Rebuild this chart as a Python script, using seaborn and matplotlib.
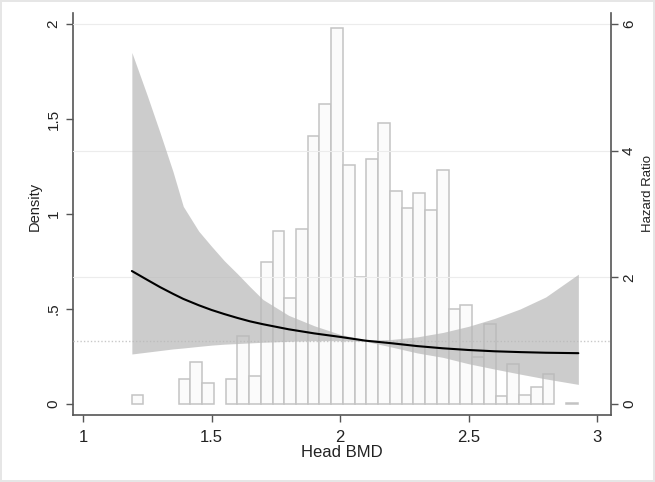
import numpy as np
import pandas as pd
import matplotlib
matplotlib.use('Agg')
import matplotlib.pyplot as plt
import seaborn as sns

# histogram of head BMD (density per bin), 38 bins from 1.189 to 2.925
bin_lo = 1.189
bin_hi = 2.925
n_bins = 38
density = [0.05, 0, 0, 0, 0.13, 0.22, 0.11, 0, 0.13, 0.36,
           0.15, 0.75, 0.91, 0.56, 0.92, 1.41, 1.58, 1.98, 1.26, 0.67,
           1.29, 1.48, 1.12, 1.03, 1.11, 1.02, 1.23, 0.50, 0.52, 0.25,
           0.42, 0.04, 0.21, 0.05, 0.09, 0.16, 0, 0.006]

# hazard ratio curve and 95% CI
bmd = [1.19, 1.25, 1.30, 1.35, 1.39, 1.45, 1.50, 1.55, 1.60, 1.65, 1.70,
       1.80, 1.90, 2.00, 2.10, 2.20, 2.30, 2.40, 2.50, 2.60, 2.70, 2.80, 2.927]
hr = [2.10, 1.96, 1.845, 1.74, 1.66, 1.56, 1.485, 1.42, 1.36, 1.305, 1.26,
      1.18, 1.115, 1.06, 1.00, 0.96, 0.915, 0.88, 0.853, 0.833, 0.82, 0.81, 0.803]
hr_up = [5.55, 4.87, 4.28, 3.67, 3.12, 2.73, 2.49, 2.26, 2.06, 1.85, 1.65,
         1.40, 1.235, 1.10, 1.01, 1.02, 1.06, 1.13, 1.227, 1.35, 1.50, 1.69, 2.05]
hr_lo = [0.79, 0.82, 0.845, 0.87, 0.885, 0.91, 0.93, 0.945, 0.955, 0.965, 0.975,
         0.99, 1.0, 1.0, 0.99, 0.90, 0.807, 0.737, 0.636, 0.553, 0.473, 0.397, 0.31]

edges = np.linspace(bin_lo, bin_hi, n_bins + 1)
hist_df = pd.DataFrame({'mid': (edges[:-1] + edges[1:]) / 2, 'density': density})
curve = pd.DataFrame({'bmd': bmd, 'hr': hr, 'up': hr_up, 'lo': hr_lo})

sns.set_style('white')
plt.rcParams['font.family'] = ['Liberation Sans', 'DejaVu Sans']

fig = plt.figure(figsize=(6.55, 4.82), dpi=100)
fig.patch.set_edgecolor('#e6e6e6')
fig.patch.set_linewidth(1.5)
ax = fig.add_axes([73 / 655, 1 - 415 / 482, 538 / 655, 402 / 482])
ax2 = ax.twinx()

sns.histplot(data=hist_df, x='mid', weights='density', bins=n_bins,
             binrange=(bin_lo, bin_hi), stat='count',
             ax=ax, color='#fbfbfb', edgecolor='#c3c3c3', linewidth=1.1, alpha=1)
for p in ax.patches:
    if p.get_height() == 0:
        p.set_visible(False)

ax2.axhline(1, color='#c8c8c8', lw=1, ls=(0, (1, 1.5)), zorder=0)
for g in [2, 4, 6]:
    ax2.axhline(g, color='#ececec', lw=0.8, zorder=0)
ax2.fill_between(curve['bmd'], curve['lo'], curve['up'], color='#b9b9b9',
                 alpha=0.72, lw=0, zorder=1)
sns.lineplot(data=curve, x='bmd', y='hr', ax=ax2, color='black', lw=1.5, zorder=2)

ax.set_xlim(0.961, 3.054)
ax.set_ylim(-0.0577, 2.0577)
ax2.set_ylim(-0.173, 6.173)

ax.set_xticks([1, 1.5, 2, 2.5, 3])
ax.set_xticklabels(['1', '1.5', '2', '2.5', '3'])
ax.set_yticks([0, 0.5, 1, 1.5, 2])
ax.set_yticklabels(['0', '.5', '1', '1.5', '2'], rotation=90, va='center')
ax2.set_yticks([0, 2, 4, 6])
ax2.set_yticklabels(['0', '2', '4', '6'], rotation=90, va='center')

spine_col = '#555555'
for a in (ax, ax2):
    a.spines['top'].set_visible(False)
    for s in a.spines.values():
        s.set_color(spine_col)
        s.set_linewidth(1.2)
ax.spines['right'].set_visible(False)
ax2.spines['left'].set_visible(False)
ax2.spines['bottom'].set_visible(False)

ax.tick_params(axis='x', length=5, width=1, color=spine_col, pad=6,
               labelsize=12, labelcolor='#222222', bottom=True)
ax.tick_params(axis='y', length=5, width=1, color=spine_col, pad=4,
               labelsize=11, labelcolor='#222222', left=True)
ax2.tick_params(axis='y', length=5, width=1, color=spine_col, pad=3,
                labelsize=11, labelcolor='#222222', right=True)

ax.set_xlabel('Head BMD', fontsize=12, color='#222222', labelpad=0)
ax.set_ylabel('Density', fontsize=10.5, color='#222222')
ax2.set_ylabel('Hazard Ratio', fontsize=9.5, color='#222222')
ax.yaxis.set_label_coords(-0.058, 0.52)
ax2.yaxis.set_label_coords(1.057, 0.55)
ax.grid(False)
ax2.grid(False)

fig.savefig('out.png', dpi=100)
